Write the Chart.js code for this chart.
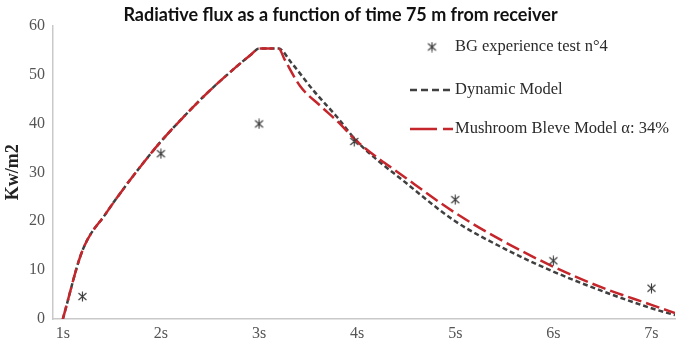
<!DOCTYPE html>
<html lang="en">
<head>
  <meta charset="utf-8">
  <script src="https://cdn.jsdelivr.net/npm/chart.js@4.4.1/dist/chart.umd.min.js"></script>
  <title>Radiative flux</title>
</head>
<body>
  <div class="wrap"><canvas id="flux-chart" width="681" height="347"></canvas></div>
</body>
</html>

<style>
  html, body { margin: 0; padding: 0; background: #fff; }
  .wrap { width: 681px; height: 347px; }
</style>

<script>
// time (s) / flux (kW/m2)
const dynTime = [1, 1.2, 1.44, 1.61, 1.78, 2, 2.22, 2.45, 2.69, 2.92, 3, 3.2, 3.33, 3.56, 3.8, 4, 4.5, 5, 5.5, 6, 6.5, 7, 7.24];
const dynFlux = [0, 14, 21.6, 26.4, 30.9, 36.3, 41.1, 45.8, 50.2, 54.1, 55.3, 55.3, 52.4, 46.6, 41.2, 36.3, 27.8, 20, 14.4, 9.7, 5.7, 2.2, 0.8];

const mushTime = [1, 1.2, 1.44, 1.61, 1.78, 2, 2.22, 2.45, 2.69, 2.92, 3, 3.2, 3.26, 3.42, 3.63, 3.8, 4, 4.5, 5, 5.5, 6, 6.5, 7, 7.24];
const mushFlux = [0, 14, 21.6, 26.4, 30.9, 36.3, 41.1, 45.8, 50.2, 54.1, 55.3, 55.3, 53.1, 47.6, 43.5, 40.4, 36.3, 28.8, 21.7, 15.8, 10.7, 6.4, 2.9, 1.2];

const testTime = [1.2, 2, 3, 3.97, 5, 6, 7];
const testFlux = [4.6, 33.8, 39.9, 36.3, 24.4, 11.9, 6.3];

const xTicks = [1, 2, 3, 4, 5, 6, 7];

const seriesNames = ['BG experience test n\u00b04', 'Dynamic Model', 'Mushroom Bleve Model \u03b1: 34%'];

const pts = (xs, ys) => xs.map((x, i) => ({ x: x, y: ys[i] }));

// asterisk-like marker (x with a vertical bar)
const star = document.createElement('canvas');
star.width = 11; star.height = 11;
(function () {
  const c = star.getContext('2d');
  c.strokeStyle = '#3a3a3a';
  c.lineWidth = 1.1;
  c.beginPath();
  c.moveTo(1.5, 2); c.lineTo(9.5, 9);
  c.moveTo(9.5, 2); c.lineTo(1.5, 9);
  c.moveTo(5.5, 0.5); c.lineTo(5.5, 10.5);
  c.stroke();
})();

const legendBox = {
  id: 'legendBox',
  afterDraw(chart) {
    const ctx = chart.ctx;
    ctx.save();
    ctx.font = '16.5px "Liberation Serif"';
    ctx.fillStyle = '#2b2b2b';
    ctx.textBaseline = 'middle';
    ctx.textAlign = 'left';
    // item 1
    ctx.drawImage(star, 432 - 5.5, 47 - 5.5);
    ctx.fillText(seriesNames[0], 455, 47);
    // item 2
    ctx.strokeStyle = '#404040';
    ctx.lineWidth = 2.5;
    ctx.setLineDash([7, 4]);
    ctx.beginPath(); ctx.moveTo(410, 90); ctx.lineTo(453, 90); ctx.stroke();
    ctx.fillText(seriesNames[1], 455, 90);
    // item 3
    ctx.strokeStyle = '#c4262b';
    ctx.setLineDash([27, 6]);
    ctx.beginPath(); ctx.moveTo(410, 129); ctx.lineTo(453, 129); ctx.stroke();
    ctx.setLineDash([]);
    ctx.fillText(seriesNames[2], 455, 129);
    ctx.restore();
  }
};

const config = {
  type: 'line',
  data: {
    datasets: [
      {
        label: seriesNames[0],
        data: pts(testTime, testFlux),
        showLine: false,
        pointStyle: star,
        pointRadius: 5,
        order: 0
      },
      {
        label: seriesNames[2],
        data: pts(mushTime, mushFlux),
        borderColor: '#c4262b',
        borderWidth: 2.5,
        borderDash: [14, 5],
        pointRadius: 0,
        cubicInterpolationMode: 'monotone',
        order: 1
      },
      {
        label: seriesNames[1],
        data: pts(dynTime, dynFlux),
        borderColor: '#404040',
        borderWidth: 2.5,
        borderDash: [5, 3],
        pointRadius: 0,
        cubicInterpolationMode: 'monotone',
        order: 2
      }
    ]
  },
  options: {
    responsive: false,
    animation: false,
    layout: { padding: { left: 0, right: 0, top: 0, bottom: 0 } },
    scales: {
      x: {
        type: 'linear',
        min: 0.9,
        max: 7.24,
        afterBuildTicks: s => { s.ticks = xTicks.map(v => ({ value: v })); },
        afterFit: s => { s.height = 28; },
        grid: { drawOnChartArea: false, drawTicks: false },
        border: { color: '#c9c9c9', width: 1.5 },
        ticks: {
          padding: 5,
          color: '#555',
          font: { family: 'Liberation Serif', size: 16 },
          callback: v => v + 's',
          maxRotation: 0
        }
      },
      y: {
        min: 0,
        max: 60,
        afterFit: s => { s.width = 53; },
        grid: { drawOnChartArea: false, drawTicks: false },
        border: { color: '#c9c9c9', width: 1.5 },
        ticks: {
          stepSize: 10,
          padding: 8,
          color: '#555',
          font: { family: 'Liberation Serif', size: 16 }
        },
        title: {
          display: true,
          text: 'Kw/m2',
          color: '#222',
          padding: { top: 3, bottom: 0 },
          font: { family: 'Liberation Serif', size: 18, weight: 'bold' }
        }
      }
    },
    plugins: {
      legend: { display: false },
      tooltip: { enabled: false },
      title: {
        display: true,
        text: 'Radiative flux as a function of time 75 m from receiver',
        color: '#111',
        font: { family: 'Lato', size: 18, weight: 'bold' },
        padding: { top: 4, bottom: 0 }
      }
    }
  },
  plugins: [legendBox]
};

var chart = new Chart(document.getElementById('flux-chart'), config);
</script>
